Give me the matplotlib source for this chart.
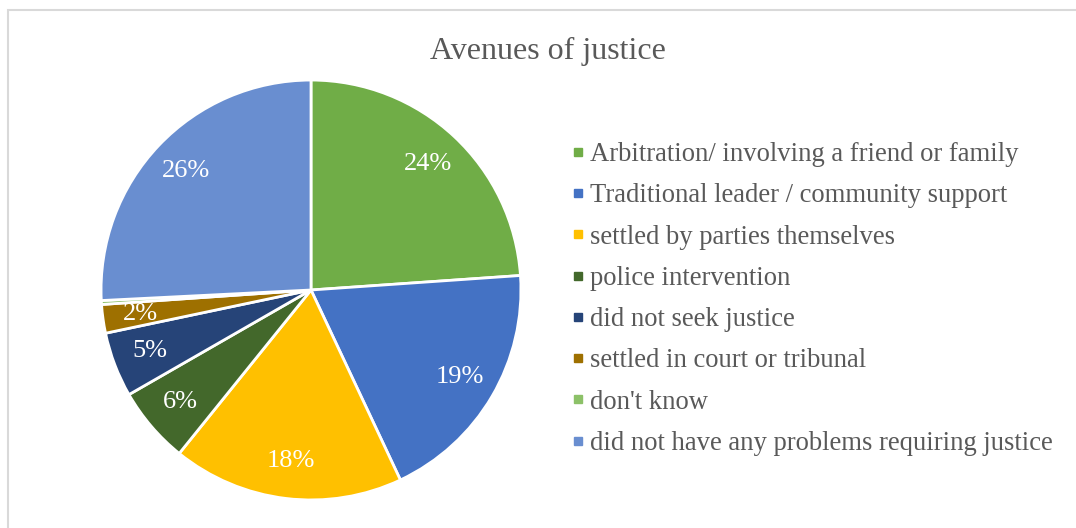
import matplotlib.pyplot as plt
from matplotlib.lines import Line2D
from matplotlib.patches import Rectangle

categories = ["Arbitration/ involving a friend or family",
              "Traditional leader / community support",
              "settled by parties themselves",
              "police intervention",
              "did not seek justice",
              "settled in court or tribunal",
              "don't know",
              "did not have any problems requiring justice"]
shares = [23.9, 19.1, 17.8, 5.9, 5.0, 2.2, 0.3, 25.8]
colors = ["#70AD47", "#4472C4", "#FFC000", "#43682B",
          "#264478", "#9E7000", "#8CC168", "#698ED0"]

plt.rcParams['font.family'] = ['Liberation Serif', 'DejaVu Serif']

fig = plt.figure(figsize=(10.76, 5.28), dpi=100)
fig.patches.append(Rectangle((8 / 1076, -0.1), 1.2, 1.1 - 10 / 528,
                             transform=fig.transFigure, fill=False,
                             edgecolor="#D9D9D9", linewidth=1.5))

ax = fig.add_axes([100 / 1076, 27 / 528, 422 / 1076, 422 / 528])


def pct_label(p):
    return "%d%%" % round(p) if p >= 1 else ""


wedges, texts, autotexts = ax.pie(
    shares, colors=colors, startangle=90, counterclock=False,
    autopct=pct_label, pctdistance=0.82,
    wedgeprops=dict(edgecolor="white", linewidth=2),
    textprops=dict(color="white", fontsize=19))
ax.set_xlim(-1.005, 1.005)
ax.set_ylim(-1.005, 1.005)
ax.set_aspect("equal")

fig.text(548 / 1076, 1 - 51 / 528, "Avenues of justice", ha="center",
         va="center", fontsize=23, color="#595959")

handles = [Line2D([], [], marker="s", linestyle="", markersize=6,
                  markerfacecolor=c, markeredgecolor=c) for c in colors]
fig.legend(handles, categories, loc="center left",
           bbox_to_anchor=(558 / 1076, 1 - 299 / 528), frameon=False,
           fontsize=19.2, labelcolor="#595959", handlelength=0.5,
           handletextpad=0.2, labelspacing=0.61, borderpad=0)

fig.savefig("out.png", dpi=100, facecolor="white")
